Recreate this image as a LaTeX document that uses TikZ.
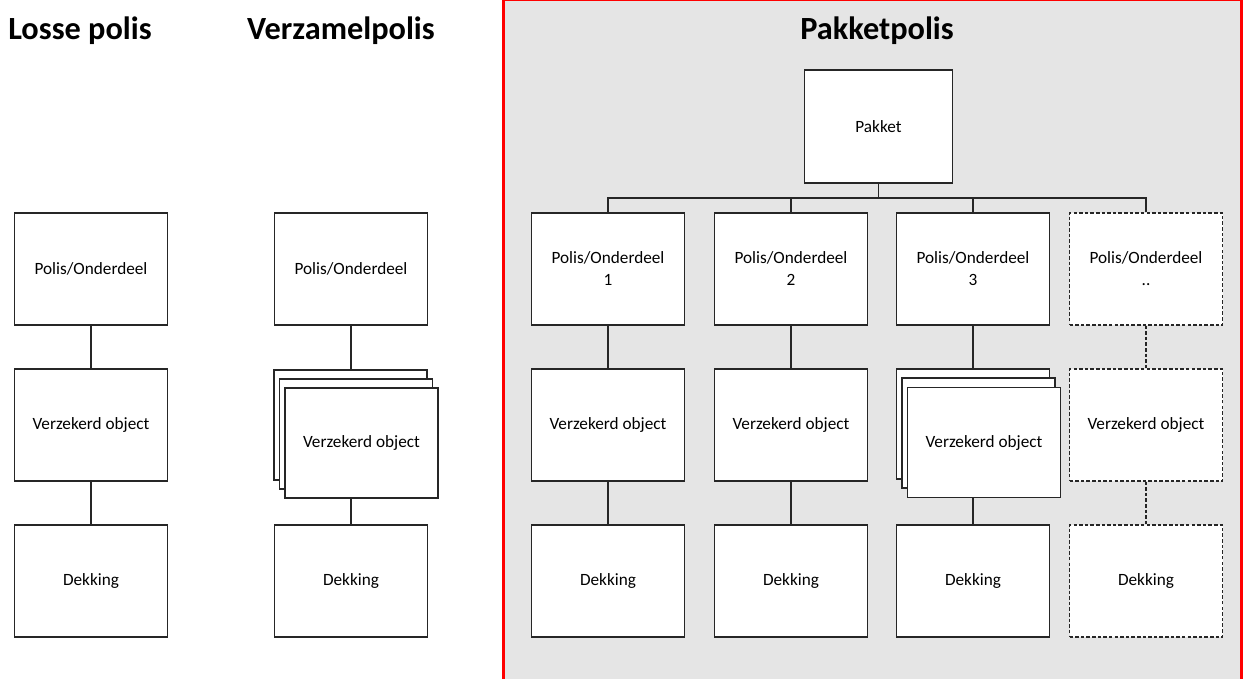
\documentclass[tikz,border=0pt]{standalone}
\usepackage{fontspec}
\setmainfont{Carlito}
\usetikzlibrary{positioning}
\definecolor{pakketfill}{HTML}{E5E5E5}
\colorlet{framecol}{red}
\colorlet{boxcol}{black!85}
\tikzstyle{polisbox}=[draw=boxcol,fill=white,line width=0.7pt,
  minimum width=3.06cm,minimum height=2.24cm,align=center,inner sep=1pt,
  font=\fontsize{9.8}{12.5}\selectfont]
\tikzstyle{stackbox}=[polisbox,minimum height=2.2cm]
\tikzstyle{dashbox}=[polisbox,dash pattern=on 2pt off 1.2pt]
\tikzstyle{link}=[draw=boxcol,line width=0.6pt]
\tikzstyle{dashlink}=[link,dash pattern=on 2pt off 1.2pt]
\tikzstyle{title}=[font=\fontsize{18.4}{22}\bfseries\selectfont]

\begin{document}
\begin{tikzpicture}[x=0.02cm,y=-0.02cm]
  \def\yP{269}
  \def\yV{425}
  \def\yD{581}

  \useasboundingbox (0,0) rectangle (1244,679);
  \clip (0,0) rectangle (1244,679);

  % FRAME
  \draw[framecol,line width=1.7pt,fill=pakketfill]
    (503.5,0) rectangle (1241.5,720);

  % TITLES
  \node[title] (tlosse) at (80,31) {Losse polis};
  \node[title] (tverzamel) at (341,31) {Verzamelpolis};
  \node[title] (tpakket) at (877,31) {Pakketpolis};

  % LOSSE POLIS
  \node[polisbox] (lp) at (91,\yP) {Polis/Onderdeel};
  \node[polisbox] (lv) at (91,\yV) {Verzekerd object};
  \node[polisbox] (ld) at (91,\yD) {Dekking};
  \draw[link] (lp) -- (lv) -- (ld);

  % VERZAMELPOLIS
  \node[polisbox] (vp) at (351,\yP) {Polis/Onderdeel};
  \foreach \k in {0,1}{
    \node[stackbox] (vv\k) at ({350.5+5.5*\k},{425+9*\k}) {};
  }
  \node[stackbox] (vv2) at (361.5,443) {Verzekerd object};
  \node[polisbox] (vd) at (351,\yD) {Dekking};
  \draw[link] (vp.south) -- (vp.south |- vv0.north);
  \draw[link] (vd.north) -- (vd.north |- vv2.south);

  % PAKKETPOLIS
  \node[polisbox,minimum width=2.96cm,minimum height=2.26cm]
    (pakket) at (878.5,126.5) {Pakket};
  \coordinate (bus) at (878.5,198);
  \draw[link] (pakket.south) -- (bus);

  \foreach \i/\x in {1/608,2/791,3/973}{
    \node[polisbox] (pp\i) at (\x,\yP) {Polis/Onderdeel\\\i};
    \node[polisbox] (pd\i) at (\x,\yD) {Dekking};
    \draw[link] (pp\i.north) |- (bus);
  }
  \foreach \i in {1,2}{
    \node[polisbox] (pv\i) at (pp\i |- 0,\yV) {Verzekerd object};
    \draw[link] (pp\i) -- (pv\i) -- (pd\i);
  }

  % stacked objects
  \foreach \k in {0,1}{
    \node[stackbox] (pv3\k) at ({973+5.5*\k},{424+9*\k}) {};
  }
  \node[stackbox] (pv32) at (984,442.5) {Verzekerd object};
  \draw[link] (pp3.south) -- (pp3.south |- pv30.north);
  \draw[link] (pd3.north) -- (pd3.north |- pv32.south);

  % open polis
  \node[dashbox] (pp4) at (1146,\yP) {Polis/Onderdeel\\..};
  \node[dashbox] (pv4) at (1146,\yV) {Verzekerd object};
  \node[dashbox] (pd4) at (1146,\yD) {Dekking};
  \draw[link] (pp4.north) |- (bus);
  \draw[dashlink] (pp4) -- (pv4) -- (pd4);

\end{tikzpicture}
\end{document}
